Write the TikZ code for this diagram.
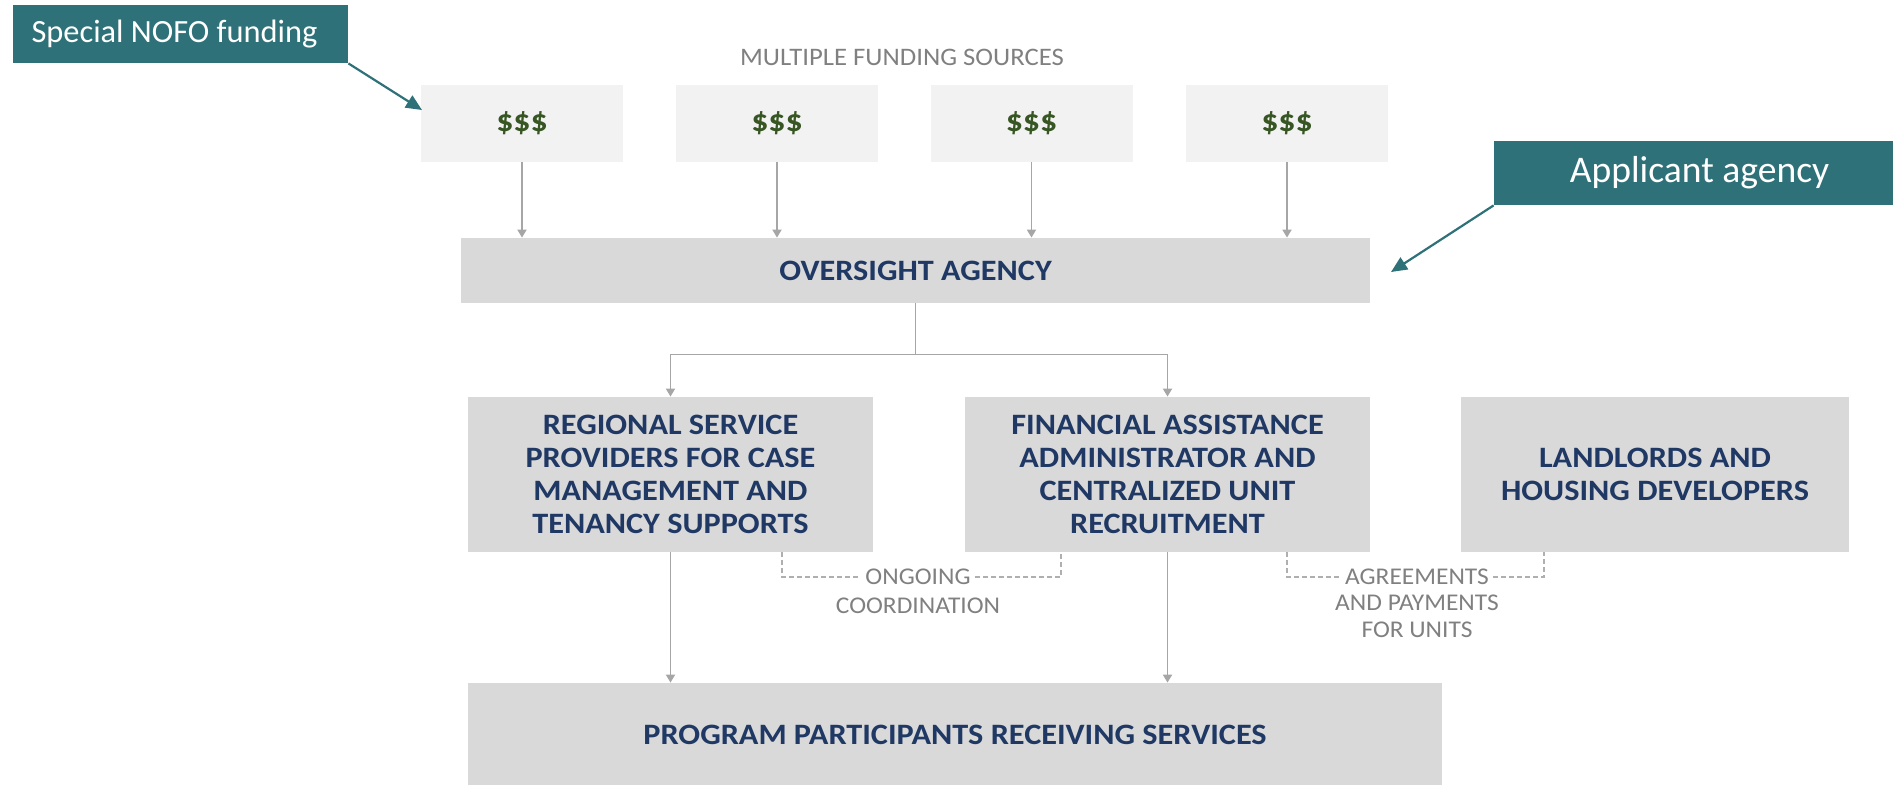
\documentclass[tikz,border=0pt]{standalone}
\usepackage{fontspec}
\setmainfont{Carlito}
\newfontfamily\widefont{Carlito}[FakeStretch=1.09]
\newfontfamily\grayfont{Carlito}[FakeStretch=1.06]
\usetikzlibrary{arrows.meta,calc}
\definecolor{teal1}{HTML}{2E7178}
\definecolor{navy}{HTML}{1F3864}
\definecolor{boxgray}{HTML}{D9D9D9}
\definecolor{boxlight}{HTML}{F2F2F2}
\definecolor{linegray}{HTML}{A6A6A6}
\definecolor{txtgray}{HTML}{808080}
\definecolor{money}{HTML}{375623}
\tikzset{
  callout/.style={fill=teal1, text=white, inner sep=0pt},
  srcbox/.style={fill=boxlight, inner sep=0pt, minimum width=101pt, minimum height=38.5pt,
     text=money, font=\widefont\bfseries\fontsize{15.5}{17}\selectfont},
  mainbox/.style={fill=boxgray, inner sep=0pt, align=center, text=navy,
     font=\widefont\bfseries\fontsize{14.8}{16.6}\selectfont},
  arr/.style={draw=linegray, line width=0.9pt, -{Triangle[width=4.5pt,length=4pt]}},
  plain/.style={draw=linegray, line width=0.9pt},
  dashline/.style={draw=linegray!90, line width=0.6pt, dash pattern=on 2.5pt off 1.5pt},
  calloutarr/.style={draw=teal1, line width=1.1pt, -{Triangle[width=7pt,length=8pt]}},
  glabel/.style={text=txtgray, inner sep=2pt, font=\grayfont\fontsize{12}{13.5}\selectfont, align=center},
}
\begin{document}
\begin{tikzpicture}[x=0.5pt,y=-0.5pt]
\useasboundingbox (0,0) rectangle (1893,784);
% callouts
\node[callout, minimum width=167.5pt, minimum height=29pt, font=\fontsize{16.2}{19}\selectfont] (nofo) at (180.5,34) {Special NOFO funding\hspace*{6pt}};
\node[callout, minimum width=199.5pt, minimum height=32pt, font=\fontsize{18.8}{22}\selectfont] (appl) at (1693.5,173) {\hspace*{6pt}Applicant agency};
% title
\node[text=txtgray, font=\grayfont\fontsize{12.6}{14}\selectfont] (title) at (902,57) {MULTIPLE FUNDING SOURCES};
% sources
\node[srcbox] (s1) at (522,123) {\$\$\$};
\node[srcbox] (s2) at (777,123) {\$\$\$};
\node[srcbox] (s3) at (1031.5,123) {\$\$\$};
\node[srcbox] (s4) at (1287,123) {\$\$\$};
% oversight
\node[mainbox, minimum width=454.5pt, minimum height=32.5pt] (over) at (915.5,270.5) {OVERSIGHT AGENCY};
% second row
\node[mainbox, minimum width=202.5pt, minimum height=77.5pt] (reg) at (670.5,474.5)
  {REGIONAL SERVICE\\PROVIDERS FOR CASE\\MANAGEMENT AND\\TENANCY SUPPORTS};
\node[mainbox, minimum width=202.5pt, minimum height=77.5pt] (fin) at (1167.5,474.5)
  {FINANCIAL ASSISTANCE\\ADMINISTRATOR AND\\CENTRALIZED UNIT\\RECRUITMENT};
\node[mainbox, minimum width=194pt, minimum height=77.5pt] (land) at (1655,474.5)
  {LANDLORDS AND\\HOUSING DEVELOPERS};
% program
\node[mainbox, minimum width=487pt, minimum height=52pt] (prog) at (955,735) {PROGRAM PARTICIPANTS RECEIVING SERVICES};
% arrows from sources
\foreach \s in {s1,s2,s3,s4}{
  \draw[arr] (\s.south) -- (\s.south |- over.north);
}
% split
\coordinate (split) at ($(over.south)+(0,51)$);
\draw[plain] (over.south) -- (split);
\draw[arr] (split) -| (reg.north);
\draw[arr] (split) -| (fin.north);
% down to program
\draw[arr] (reg.south) -- (reg.south |- prog.north);
\draw[arr] (fin.south) -- (fin.south |- prog.north);
% callout arrows
\coordinate (nofoTip) at (422,110);
\draw[calloutarr] (nofo.south east) -- (nofoTip);
\coordinate (applTip) at (1391,272);
\draw[calloutarr] (appl.south west) -- (applTip);
% ongoing coordination
\node[glabel] (ong) at (918,577) {ONGOING};
\node[glabel, anchor=north] (coord) at ($(ong.south)+(0,4)$) {COORDINATION};
\coordinate (d1a) at (782,0);
\coordinate (d1b) at (1061,0);
\draw[dashline] (reg.south -| d1a) |- (ong.west);
\draw[dashline] (ong.east) -| (fin.south -| d1b);
% agreements
\node[glabel] (agr) at (1417,577) {AGREEMENTS};
\node[glabel, anchor=north] (pay) at ($(agr.south)+(0,1)$) {AND PAYMENTS\\FOR UNITS};
\coordinate (d2a) at (1287,0);
\coordinate (d2b) at (1544,0);
\draw[dashline] (fin.south -| d2a) |- (agr.west);
\draw[dashline] (agr.east) -| (land.south -| d2b);
\end{tikzpicture}
\end{document}
